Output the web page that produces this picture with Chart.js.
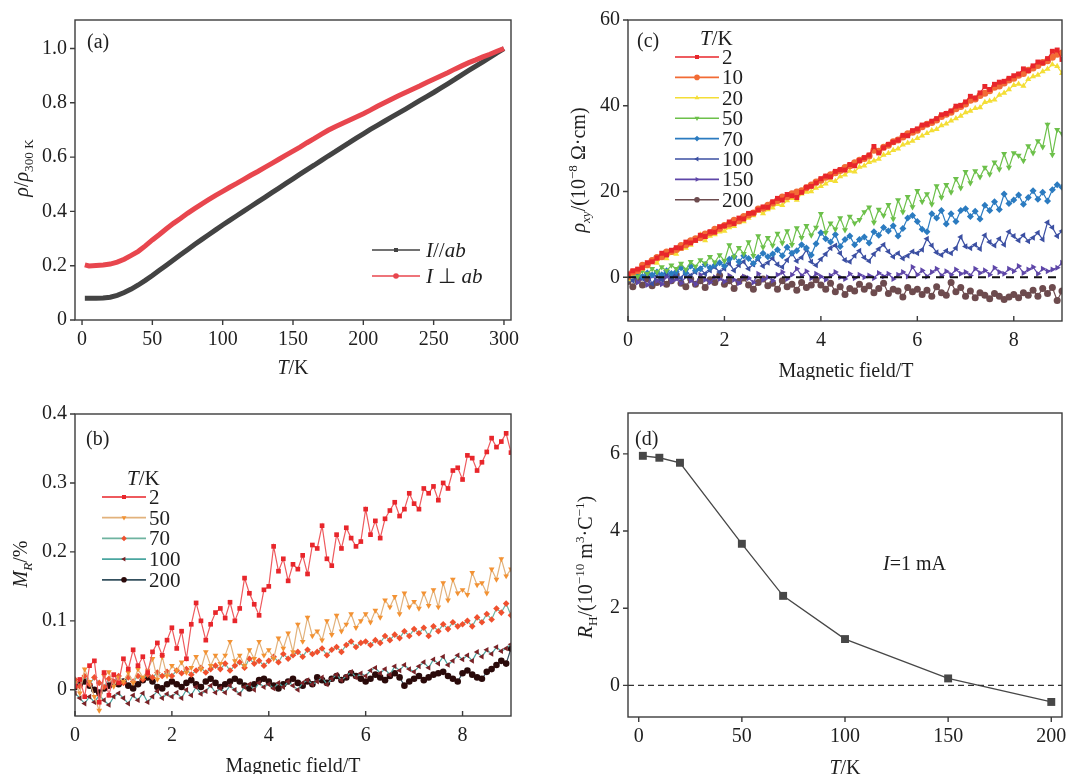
<!DOCTYPE html>
<html><head><meta charset="utf-8">
<script src="https://cdn.jsdelivr.net/npm/chart.js@4.4.0/dist/chart.umd.min.js"></script>
<style>
body{margin:0;background:#fff;width:1091px;height:774px;position:relative;overflow:hidden}
canvas{position:absolute}
</style></head><body>
<canvas id="ca" width="545" height="380" style="left:0;top:0"></canvas>
<canvas id="cc" width="546" height="380" style="left:545px;top:0"></canvas>
<canvas id="cb" width="545" height="394" style="left:0;top:380px"></canvas>
<canvas id="cd" width="546" height="394" style="left:545px;top:380px"></canvas>
<script>
// ---------- DATA ----------
// Panel (a): normalized resistivity vs temperature
const tempA = [2,5,10,15,20,25,30,35,40,45,50,55,60,65,70,75,80,85,90,95,100,105,110,115,120,125,130,135,140,145,150,155,160,165,170,175,180,185,190,195,200,205,210,215,220,225,230,235,240,245,250,255,260,265,270,275,280,285,290,295,300];
const rhoParallel = [0.080,0.080,0.080,0.081,0.084,0.091,0.101,0.114,0.129,0.146,0.164,0.183,0.202,0.221,0.240,0.259,0.278,0.296,0.314,0.332,0.350,0.367,0.384,0.401,0.418,0.435,0.452,0.469,0.486,0.503,0.520,0.537,0.554,0.570,0.587,0.604,0.620,0.637,0.653,0.670,0.686,0.702,0.717,0.732,0.747,0.762,0.777,0.792,0.808,0.823,0.838,0.854,0.870,0.886,0.903,0.919,0.935,0.951,0.967,0.984,1.000];
const rhoPerp = [0.203,0.199,0.201,0.203,0.206,0.213,0.224,0.238,0.253,0.273,0.295,0.315,0.336,0.356,0.374,0.393,0.410,0.427,0.443,0.459,0.474,0.489,0.503,0.518,0.533,0.547,0.562,0.577,0.592,0.607,0.622,0.637,0.653,0.668,0.684,0.699,0.712,0.724,0.736,0.748,0.760,0.773,0.787,0.800,0.813,0.826,0.838,0.850,0.862,0.875,0.887,0.899,0.911,0.924,0.936,0.948,0.958,0.969,0.979,0.990,1.000];

// Magnetic field grid (T) for panels (b) and (c)
const fieldT = [0,0.1,0.2,0.3,0.4,0.5,0.6,0.7,0.8,0.9,1,1.1,1.2,1.3,1.4,1.5,1.6,1.7,1.8,1.9,2,2.1,2.2,2.3,2.4,2.5,2.6,2.7,2.8,2.9,3,3.1,3.2,3.3,3.4,3.5,3.6,3.7,3.8,3.9,4,4.1,4.2,4.3,4.4,4.5,4.6,4.7,4.8,4.9,5,5.1,5.2,5.3,5.4,5.5,5.6,5.7,5.8,5.9,6,6.1,6.2,6.3,6.4,6.5,6.6,6.7,6.8,6.9,7,7.1,7.2,7.3,7.4,7.5,7.6,7.7,7.8,7.9,8,8.1,8.2,8.3,8.4,8.5,8.6,8.7,8.8,8.9,9];

// Panel (c): Hall resistivity (1e-8 Ohm cm)
const labelsC = ['2','10','20','50','70','100','150','200'];
const hall2 = [0.8,1.5,1.9,2.2,3.4,3.6,4.5,5.6,5.2,6.3, 6.9,6.8,8.2,8.0,8.6,9.8,9.5,10.6,10.5,11.8, 12.0,12.9,12.5,13.8,13.6,14.9,15.0,15.7,16.4,16.3, 17.6,18.4,18.0,19.3,19.0,18.6,19.8,21.0,21.2,22.0, 23.0,23.6,23.4,24.7,25.1,25.0,26.3,26.0,27.2,27.9, 28.5,30.5,29.0,30.2,31.0,31.5,32.0,33.1,33.0,34.2, 34.6,35.5,35.7,36.4,37.0,37.9,38.2,38.8,39.9,40.1, 40.9,42.2,41.8,43.0,44.5,43.8,45.0,45.5,45.7,46.4, 47.0,47.4,48.6,48.2,49.3,50.2,50.0,51.0,52.7,53.0, 50.8];
const hall10 = [0.2,1.2,1.6,2.8,2.9,3.9,4.6,4.8,5.9,6.0, 6.5,7.4,7.6,8.5,9.0,9.2,10.1,10.4,11.2,11.4, 12.1,12.4,13.3,13.2,14.2,14.5,15.0,15.9,16.1,16.8, 17.3,17.9,18.7,18.8,19.5,19.9,20.2,20.9,21.5,22.2, 22.6,23.3,23.9,24.4,24.9,25.6,26.0,26.7,27.3,27.7, 28.3,29.6,29.4,30.3,30.8,31.6,32.0,32.7,33.5,33.8, 34.3,35.1,35.7,36.1,36.7,37.5,38.0,38.5,39.3,39.8, 40.4,41.3,41.6,42.4,42.9,43.5,44.3,44.6,45.3,46.0, 46.4,47.1,47.5,48.3,48.8,49.4,50.1,50.5,51.3,52.0, 52.3];
const hall20 = [-0.5,0.8,1.3,1.9,2.5,3.6,3.3,4.6,4.4,5.6, 5.4,6.6,6.8,7.5,8.4,9.9,8.6,9.6,10.0,10.6, 10.8,11.6,11.9,12.8,13.0,13.8,14.4,15.5,14.9,15.8, 16.2,17.0,16.8,17.9,18.4,18.0,19.5,19.9,20.0,20.8, 21.2,21.8,22.6,22.4,23.5,23.9,24.8,24.6,25.7,26.0, 26.8,27.2,27.6,28.5,28.9,29.6,30.0,30.9,31.3,31.8, 32.4,33.0,33.6,34.2,34.5,35.4,35.8,36.5,37.0,37.6, 38.4,38.8,39.4,39.6,40.8,41.1,41.4,42.5,43.0,43.8, 44.8,45.1,44.6,46.2,46.8,47.2,48.0,48.6,49.6,49.2, 47.6];
const hall50 = [0.5,1.0,0.2,1.5,0.8,2.0,1.2,2.4,1.5,2.8, 2.0,3.2,1.8,3.6,2.5,4.0,3.2,4.8,3.5,5.2, 3.8,7.5,4.8,6.9,5.5,8.2,5.0,9.6,7.0,9.2, 7.4,10.2,8.0,10.8,7.6,11.5,9.2,12.0,9.8,11.6, 14.8,10.4,12.6,11.2,13.8,11.0,14.2,12.6,13.4,15.2, 16.3,12.8,15.8,14.4,16.9,13.6,18.0,15.2,18.8,16.4, 20.2,17.6,19.4,17.0,21.3,18.6,21.6,19.8,23.0,20.8, 24.6,22.0,24.8,23.4,25.6,24.0,26.8,25.2,28.8,25.6, 29.0,28.4,27.2,30.6,29.0,31.8,30.4,35.6,28.6,34.4, 33.5];
const hall70 = [-0.5,0.4,0.9,0.2,1.0,0.5,1.2,0.6,1.5,0.9, 1.3,2.2,1.0,2.6,1.6,2.0,3.0,2.2,2.8,3.4, 2.6,4.2,4.8,3.6,5.0,4.4,3.2,4.6,5.6,4.8, 5.4,6.4,5.0,7.0,5.6,6.2,7.6,6.8,5.2,7.8, 10.4,9.0,8.2,10.0,7.2,8.8,9.6,7.6,8.8,9.4, 8.0,10.6,9.8,11.6,10.8,12.0,9.6,11.4,13.8,14.4, 13.0,11.2,10.6,14.8,13.8,15.6,12.4,14.8,13.0,15.6, 16.0,14.2,15.4,13.6,16.8,15.6,17.6,15.8,19.4,17.2, 18.0,19.2,17.0,18.6,20.2,18.2,19.8,17.8,20.4,21.6, 21.0];
const hall100 = [0.2,-0.8,0.5,-0.3,0.8,-1.5,0.3,-0.6,0.9,0.0, 0.6,-0.2,1.4,0.4,1.2,2.0,0.8,1.6,2.4,1.2, 2.0,3.2,1.6,2.8,3.6,2.0,3.0,4.2,2.6,3.4, 4.4,3.0,2.4,4.0,5.6,3.8,4.6,6.4,3.6,2.8, 4.2,5.4,6.8,7.4,5.6,4.0,3.6,5.0,6.2,4.6, 3.8,5.4,6.6,7.6,6.0,4.8,5.6,4.4,5.0,6.0, 5.6,6.4,9.0,7.4,5.8,5.2,6.2,5.6,6.8,9.4, 7.2,6.8,7.6,6.6,9.8,8.2,7.4,9.0,7.6,10.6, 9.6,8.6,9.8,8.4,9.2,10.4,8.8,12.8,11.6,9.6, 10.8];
const hall150 = [-0.6,0.8,-1.2,-0.2,-1.8,0.4,-0.8,-1.6,0.2,-1.0, -0.4,-1.4,0.2,-0.8,-1.6,0.6,-0.6,-1.2,0.0,-0.4, -1.0,0.4,-0.6,-1.4,0.2,-0.2,-1.2,0.8,-0.6,0.0, -0.8,0.6,1.2,-0.4,0.6,2.0,0.4,1.4,-0.2,0.8, 0.2,-0.6,0.4,1.2,0.0,-0.4,0.8,-0.2,0.6,0.0, 0.4,-0.2,1.0,0.2,0.8,-0.4,0.6,1.2,0.2,2.4, 0.6,1.6,0.2,1.2,2.0,0.4,1.4,0.6,1.8,0.8, 1.2,0.4,2.0,1.0,1.6,0.6,2.2,1.2,0.8,2.0, 1.4,2.6,1.0,1.8,2.4,0.8,2.0,1.4,1.8,2.2, 3.4];
const hall200 = [-1.0,-2.2,-0.6,-1.8,-0.4,-2.0,-1.2,-0.2,-1.6,-0.8, 0.6,-1.4,-2.2,-0.4,-1.6,-0.8,-2.4,-0.6,-1.2,0.4, -1.6,-0.8,-2.6,-1.0,-0.2,-1.8,-2.8,-1.2,-0.4,-2.0, -1.4,-2.8,-0.8,-2.2,-1.6,-3.0,-1.2,-2.4,-1.8,-0.6, -1.8,-2.8,-1.4,-3.4,-2.2,-4.0,-2.6,-3.2,-1.6,-2.8, -2.0,-3.6,-2.6,-1.4,-3.8,-2.8,-3.2,-4.6,-2.4,-3.4, -2.8,-4.0,-3.0,-4.4,-2.2,-3.6,-4.2,-1.2,-3.4,-2.4, -4.4,-3.2,-4.8,-3.6,-4.2,-5.0,-3.8,-4.4,-5.2,-4.6, -4.0,-4.8,-3.6,-4.2,-3.0,-4.4,-2.6,-3.8,-2.4,-5.4, -3.2];

// Panel (b): magnetoresistance (%)
const labelsB = ['2','50','70','100','200'];
const mr2 = [0.005,0.015,-0.01,0.035,0.042,-0.018,0.025,-0.008,0.022,0.01, 0.045,0.03,0.058,0.035,0.048,0.025,0.055,0.068,0.05,0.072, 0.09,0.06,0.085,0.045,0.095,0.126,0.1,0.072,0.095,0.112, 0.118,0.104,0.127,0.1,0.118,0.162,0.14,0.124,0.108,0.145, 0.15,0.208,0.172,0.19,0.158,0.182,0.175,0.195,0.168,0.21, 0.205,0.238,0.19,0.18,0.225,0.205,0.235,0.22,0.208,0.215, 0.262,0.225,0.245,0.22,0.248,0.26,0.272,0.252,0.262,0.285, 0.27,0.262,0.292,0.285,0.295,0.275,0.3,0.292,0.318,0.322, 0.305,0.34,0.336,0.318,0.33,0.345,0.365,0.352,0.36,0.372, 0.344];
const mr50 = [0.01,-0.005,0.03,0.012,-0.01,-0.03,0.02,0.026,0.005,0.018, 0.012,0.025,0.01,0.03,0.018,0.028,0.045,0.015,0.048,0.02, 0.035,0.028,0.04,0.025,0.032,0.048,0.03,0.055,0.035,0.05, 0.038,0.05,0.07,0.042,0.05,0.035,0.058,0.045,0.07,0.05, 0.058,0.045,0.075,0.06,0.082,0.055,0.095,0.07,0.105,0.078, 0.085,0.072,0.1,0.08,0.108,0.085,0.095,0.11,0.09,0.1, 0.11,0.098,0.115,0.105,0.13,0.12,0.135,0.11,0.14,0.12, 0.128,0.118,0.14,0.122,0.145,0.12,0.155,0.13,0.16,0.14, 0.145,0.138,0.17,0.152,0.155,0.14,0.175,0.16,0.19,0.165, 0.175];
const mr70 = [0.015,0.005,0.02,0.008,0.018,0.01,0.004,0.016,0.012,0.02, 0.01,0.018,0.012,0.02,0.015,0.022,0.018,0.025,0.02,0.026, 0.02,0.028,0.024,0.03,0.022,0.028,0.032,0.025,0.03,0.035, 0.03,0.038,0.028,0.035,0.04,0.032,0.045,0.038,0.042,0.035, 0.042,0.048,0.04,0.052,0.045,0.05,0.055,0.048,0.058,0.052, 0.055,0.06,0.05,0.058,0.062,0.055,0.065,0.07,0.062,0.068, 0.07,0.065,0.072,0.068,0.078,0.072,0.08,0.075,0.085,0.078, 0.088,0.082,0.09,0.078,0.092,0.085,0.095,0.088,0.098,0.092, 0.095,0.1,0.092,0.105,0.098,0.11,0.102,0.118,0.112,0.125, 0.108];
const mr100 = [-0.005,-0.012,-0.02,-0.01,-0.018,-0.008,-0.015,-0.022,-0.01,-0.005, -0.012,-0.02,-0.008,-0.015,-0.005,-0.018,-0.01,-0.002,-0.012,-0.006, -0.01,-0.004,-0.012,0.0,-0.008,0.004,-0.006,-0.002,0.006,-0.004, 0.002,-0.004,0.006,0.0,-0.006,0.004,0.008,0.0,0.01,0.004, 0.008,0.002,0.01,0.004,0.012,0.006,0.0,0.01,0.014,0.008, 0.012,0.018,0.008,0.016,0.022,0.014,0.02,0.026,0.018,0.024, 0.02,0.028,0.032,0.024,0.03,0.022,0.034,0.028,0.036,0.03, 0.026,0.034,0.04,0.032,0.044,0.038,0.048,0.036,0.042,0.05, 0.044,0.05,0.042,0.055,0.048,0.058,0.052,0.062,0.056,0.06, 0.066];
const mr200 = [0.004,0.008,0.012,0.006,0.0,-0.004,0.002,0.006,0.01,0.008, 0.012,0.006,0.002,0.008,0.014,0.018,0.012,0.004,0.002,0.008, 0.012,0.008,0.004,0.01,0.014,0.008,0.004,0.012,0.016,0.01, 0.004,0.008,0.012,0.016,0.012,0.006,0.002,0.008,0.014,0.016, 0.012,0.006,0.002,0.008,0.012,0.016,0.01,0.006,0.012,0.008, 0.018,0.014,0.01,0.016,0.02,0.014,0.018,0.024,0.02,0.016, 0.012,0.016,0.022,0.018,0.014,0.02,0.024,0.018,0.006,0.012, 0.016,0.02,0.014,0.018,0.022,0.024,0.026,0.02,0.016,0.012, 0.024,0.028,0.022,0.018,0.016,0.026,0.03,0.036,0.042,0.038, 0.06];

// Panel (d): Hall coefficient vs T
const tempD = [2,10,20,50,70,100,150,200];
const hallCoef = [5.95,5.9,5.77,3.67,2.32,1.2,0.18,-0.43];

// Tick values
const ticksA_x = [0,50,100,150,200,250,300];
const ticksA_y = [0,0.2,0.4,0.6,0.8,1.0];
const ticksB_x = [0,2,4,6,8];
const ticksB_y = [0,0.1,0.2,0.3,0.4];
const ticksC_x = [0,2,4,6,8];
const ticksC_y = [0,20,40,60];
const ticksD_x = [0,50,100,150,200];
const ticksD_y = [0,2,4,6];

// ---------- HELPERS ----------
const SERIF = "'Liberation Serif','Times New Roman',serif";
const INK = '#1e1e1e';
function partFont(p, size){
  const s = p.s ? size*0.66 : size;
  return (p.i ? 'italic ' : '') + s + 'px ' + SERIF;
}
function richWidth(ctx, parts, size){
  let w = 0;
  for (const p of parts){ ctx.font = partFont(p,size); w += ctx.measureText(p.t).width; }
  return w;
}
function drawRich(ctx, parts, x, y, size, align){
  const w = richWidth(ctx, parts, size);
  let cx = align === 'center' ? x - w/2 : x;
  const base = y + size*0.33;
  ctx.fillStyle = INK;
  ctx.textBaseline = 'alphabetic';
  ctx.textAlign = 'left';
  for (const p of parts){
    ctx.font = partFont(p,size);
    let dy = 0;
    if (p.s === 'sub') dy = size*0.25;
    if (p.s === 'sup') dy = -size*0.4;
    ctx.fillText(p.t, cx, base + dy);
    cx += ctx.measureText(p.t).width;
  }
}
function drawRichRot(ctx, parts, x, y, size){
  ctx.save(); ctx.translate(x,y); ctx.rotate(-Math.PI/2);
  drawRich(ctx, parts, 0, 0, size, 'center');
  ctx.restore();
}
function drawMarker(ctx, style, x, y, r, rot, color){
  ctx.save(); ctx.translate(x,y); ctx.rotate((rot||0)*Math.PI/180);
  ctx.fillStyle = color; ctx.beginPath();
  if (style === 'rect'){ const s=r*0.72; ctx.rect(-s,-s,2*s,2*s); }
  else if (style === 'rectRot'){ ctx.moveTo(0,-r); ctx.lineTo(r,0); ctx.lineTo(0,r); ctx.lineTo(-r,0); ctx.closePath(); }
  else if (style === 'triangle'){ ctx.moveTo(0,-r); ctx.lineTo(r*0.87,r*0.5); ctx.lineTo(-r*0.87,r*0.5); ctx.closePath(); }
  else { ctx.arc(0,0,r,0,Math.PI*2); }
  ctx.fill(); ctx.restore();
}

const deco = {
  id: 'deco',
  afterDatasetsDraw(chart, args, o){
    const ctx = chart.ctx, a = chart.chartArea;
    if (o.zero){
      const y = chart.scales.y.getPixelForValue(0);
      ctx.save(); ctx.strokeStyle = o.zero.color; ctx.lineWidth = o.zero.width;
      ctx.setLineDash(o.zero.dash); ctx.beginPath();
      ctx.moveTo(a.left, y); ctx.lineTo(a.right, y); ctx.stroke(); ctx.restore();
    }
  },
  afterDraw(chart, args, o){
    const ctx = chart.ctx, a = chart.chartArea;
    ctx.save();
    ctx.strokeStyle = '#3c3c3c'; ctx.lineWidth = 1.4; ctx.setLineDash([]);
    ctx.strokeRect(a.left, a.top, a.right-a.left, a.bottom-a.top);
    // ticks
    const tl = 5;
    ctx.beginPath();
    for (const t of chart.scales.x.ticks){
      const px = chart.scales.x.getPixelForValue(t.value);
      ctx.moveTo(px, a.bottom); ctx.lineTo(px, o.xIn ? a.bottom - tl : a.bottom + tl);
    }
    for (const t of chart.scales.y.ticks){
      const py = chart.scales.y.getPixelForValue(t.value);
      ctx.moveTo(a.left, py); ctx.lineTo(a.left - tl, py);
    }
    ctx.stroke();
    // titles
    drawRich(ctx, o.xTitle.parts, o.xTitle.x, o.xTitle.y, 20, 'center');
    drawRichRot(ctx, o.yTitle.parts, o.yTitle.x, o.yTitle.y, 20);
    drawRich(ctx, [{t:o.panel.t}], o.panel.x, o.panel.y, 20, 'left');
    if (o.note) drawRich(ctx, o.note.parts, o.note.x, o.note.y, 20, 'left');
    // legend
    if (o.legend){
      const L = o.legend;
      if (L.head) drawRich(ctx, L.head.parts, L.head.x, L.head.y, 21, 'left');
      L.items.forEach((it, k) => {
        const y = L.y0 + k*L.dy;
        ctx.strokeStyle = it.line; ctx.lineWidth = L.lw || 1.6;
        ctx.beginPath(); ctx.moveTo(L.x1, y); ctx.lineTo(L.x2, y); ctx.stroke();
        drawMarker(ctx, it.style, (L.x1+L.x2)/2, y, L.mr || 2.6, it.rot, it.marker);
        drawRich(ctx, it.parts, L.tx, y, L.size || 21, 'left');
      });
    }
    ctx.restore();
  }
};

function fixedTicks(list){ return s => { s.ticks = list.map(v => ({value:v})); }; }
function scales(xr, yr, xt, yt, yw, xh, xfmt, yfmt){
  const tickFont = {family: SERIF, size: 20};
  return {
    x: {type:'linear', min:xr[0], max:xr[1], afterBuildTicks: fixedTicks(xt),
        afterFit: s => { s.height = xh; },
        grid:{display:false, drawTicks:false}, border:{display:false},
        ticks:{font:tickFont, color:INK, padding:8, maxRotation:0, autoSkip:false, callback: xfmt}},
    y: {type:'linear', min:yr[0], max:yr[1], afterBuildTicks: fixedTicks(yt),
        afterFit: s => { s.width = yw; },
        grid:{display:false, drawTicks:false}, border:{display:false},
        ticks:{font:tickFont, color:INK, padding:8, autoSkip:false, callback: yfmt}}
  };
}
const intFmt = v => String(v);
const decFmt = v => v === 0 ? '0' : v.toFixed(1);
function xy(xs, ys){ return xs.map((x,i) => ({x, y: ys[i]})); }
const baseOpts = {responsive:false, animation:false, devicePixelRatio:1, events:[]};

// ---------- PANEL (a) ----------
new Chart(document.getElementById('ca'), {
  type:'line',
  data:{datasets:[
    {data: xy(tempA, rhoPerp), borderColor:'#e8464e', borderWidth:5, pointRadius:0, tension:0},
    {data: xy(tempA, rhoParallel), borderColor:'#434343', borderWidth:5, pointRadius:0, tension:0}
  ]},
  options: Object.assign({}, baseOpts, {
    layout:{padding:{left:0, top:17, right:34, bottom:0}},
    scales: scales([-5,305],[0,1.105], ticksA_x, ticksA_y, 75, 60, intFmt, decFmt),
    plugins:{legend:{display:false}, tooltip:{enabled:false},
      deco:{
        xIn:false,
        xTitle:{parts:[{t:'T',i:true},{t:'/K'}], x:293, y:367},
        yTitle:{parts:[{t:'ρ',i:true},{t:'/'},{t:'ρ',i:true},{t:'300 K',s:'sub'}], x:21, y:168},
        panel:{t:'(a)', x:87, y:41},
        legend:{x1:372, x2:420, tx:426, y0:250, dy:26, size:21, mr:2.8, lw:1.6, items:[
          {parts:[{t:'I',i:true},{t:'//'},{t:'ab',i:true}], line:'#434343', marker:'#434343', style:'rect'},
          {parts:[{t:'I',i:true},{t:' ⊥ '},{t:'ab',i:true}], line:'#e8464e', marker:'#e8464e', style:'circle'}
        ]}
      }}
  }),
  plugins:[deco]
});

// ---------- PANEL (c) ----------
const colC = ['#e8262b','#f26b35','#f4de36','#6cc04a','#2b7bc0','#3b4fa2','#5e46a8','#6d4b4e'];
const styC = [['rect',0],['circle',0],['triangle',0],['triangle',180],['rectRot',0],['triangle',-90],['triangle',90],['circle',0]];
const seriesC = [hall2, hall10, hall20, hall50, hall70, hall100, hall150, hall200];
new Chart(document.getElementById('cc'), {
  type:'line',
  data:{datasets: seriesC.map((s,k) => ({
    data: xy(fieldT, s), borderColor: colC[k], backgroundColor: colC[k], borderWidth:1.2,
    pointStyle: styC[k][0], rotation: styC[k][1], pointRadius: 3.5, pointBorderWidth:0,
    pointBackgroundColor: colC[k], tension:0
  }))},
  options: Object.assign({}, baseOpts, {
    layout:{padding:{left:0, top:17, right:29, bottom:0}},
    scales: scales([0,9],[-10.2,60], ticksC_x, ticksC_y, 83, 59, intFmt, intFmt),
    plugins:{legend:{display:false}, tooltip:{enabled:false},
      deco:{
        xIn:true,
        zero:{color:'#111', width:1.8, dash:[8,6]},
        xTitle:{parts:[{t:'Magnetic field/T'}], x:301, y:370},
        yTitle:{parts:[{t:'ρ',i:true},{t:'xy',i:true,s:'sub'},{t:'/(10'},{t:'−8',s:'sup'},{t:' Ω·cm)'}], x:33, y:170},
        panel:{t:'(c)', x:92, y:40},
        legend:{head:{parts:[{t:'T',i:true},{t:'/K'}], x:155, y:38},
          x1:130, x2:174, tx:177, y0:57, dy:20.4, size:21, mr:2.8, lw:1.6,
          items: labelsC.map((l,k) => ({parts:[{t:l}], line:colC[k], marker:colC[k], style:styC[k][0], rot:styC[k][1]}))}
      }}
  }),
  plugins:[deco]
});

// ---------- PANEL (b) ----------
const mkB = ['#e8262b','#f39233','#f0502e','#7a2226','#2a0a0a'];
const lnB = ['#ee5a5e','#e2b27c','#6fb3a0','#4aa6a0','#34505e'];
const styB = [['rect',0],['triangle',180],['rectRot',0],['triangle',-90],['circle',0]];
const seriesB = [mr2, mr50, mr70, mr100, mr200];
new Chart(document.getElementById('cb'), {
  type:'line',
  data:{datasets: seriesB.map((s,k) => ({
    data: xy(fieldT, s), borderColor: lnB[k], backgroundColor: mkB[k], borderWidth:1.2,
    pointStyle: styB[k][0], rotation: styB[k][1], pointRadius: 3.3, pointBorderWidth:0,
    pointBackgroundColor: mkB[k], tension:0
  }))},
  options: Object.assign({}, baseOpts, {
    layout:{padding:{left:0, top:34, right:34, bottom:0}},
    scales: scales([0,9],[-0.038,0.4], ticksB_x, ticksB_y, 75, 58, intFmt, decFmt),
    plugins:{legend:{display:false}, tooltip:{enabled:false},
      deco:{
        xIn:true,
        xTitle:{parts:[{t:'Magnetic field/T'}], x:293, y:385},
        yTitle:{parts:[{t:'M',i:true},{t:'R',i:true,s:'sub'},{t:'/%'}], x:20, y:184},
        panel:{t:'(b)', x:86, y:58},
        legend:{head:{parts:[{t:'T',i:true},{t:'/K'}], x:127, y:98},
          x1:102, x2:146, tx:149, y0:117, dy:20.7, size:21, mr:2.8, lw:1.8,
          items: labelsB.map((l,k) => ({parts:[{t:l}], line:lnB[k], marker:mkB[k], style:styB[k][0], rot:styB[k][1]}))}
      }}
  }),
  plugins:[deco]
});

// ---------- PANEL (d) ----------
new Chart(document.getElementById('cd'), {
  type:'line',
  data:{datasets:[{data: xy(tempD, hallCoef), borderColor:'#474747', borderWidth:1.3,
    pointStyle:'rect', pointRadius:5.6, pointBorderWidth:0, pointBackgroundColor:'#474747', tension:0}]},
  options: Object.assign({}, baseOpts, {
    layout:{padding:{left:0, top:33, right:29, bottom:0}},
    scales: scales([-5.2,205.2],[-0.82,7.06], ticksD_x, ticksD_y, 83, 57, intFmt, intFmt),
    plugins:{legend:{display:false}, tooltip:{enabled:false},
      deco:{
        xIn:false,
        zero:{color:'#333', width:1.3, dash:[6,4]},
        xTitle:{parts:[{t:'T',i:true},{t:'/K'}], x:300, y:387},
        yTitle:{parts:[{t:'R',i:true},{t:'H',s:'sub'},{t:'/(10'},{t:'−10',s:'sup'},{t:' m'},{t:'3',s:'sup'},{t:'·C'},{t:'−1',s:'sup'},{t:')'}], x:40, y:187},
        panel:{t:'(d)', x:90, y:58},
        note:{parts:[{t:'I',i:true},{t:'=1 mA'}], x:338, y:183}
      }}
  }),
  plugins:[deco]
});
</script>
</body></html>
